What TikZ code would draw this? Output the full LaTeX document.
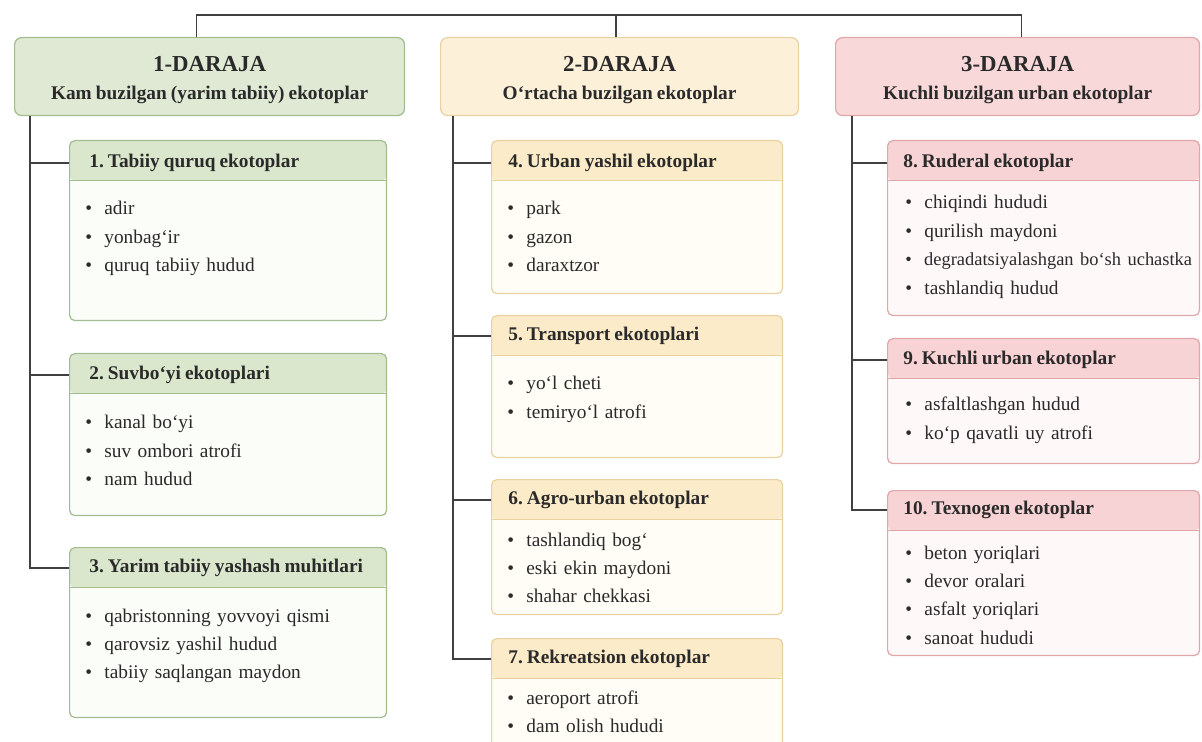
\documentclass[tikz,border=0pt]{standalone}
\usepackage{fontspec}
\setmainfont[WordSpace=0.85]{Liberation Serif}
\frenchspacing
\newcommand{\itembul}{\textbullet\hspace{7pt}}
\definecolor{linegray}{HTML}{404040}
\definecolor{inkgray}{HTML}{2A2A2A}
% level 1 (green)
\definecolor{grline}{HTML}{A3BC90}
\definecolor{grtop}{HTML}{DFE9D4}
\definecolor{grhead}{HTML}{DBE7CD}
\definecolor{grbody}{HTML}{FBFDF8}
% level 2 (orange)
\definecolor{orline}{HTML}{E8D2A2}
\definecolor{ortop}{HTML}{FDF0D9}
\definecolor{orhead}{HTML}{FCEBC8}
\definecolor{orbody}{HTML}{FFFDF6}
% level 3 (red)
\definecolor{rdline}{HTML}{E0A7AA}
\definecolor{rdtop}{HTML}{F9D8D9}
\definecolor{rdhead}{HTML}{F8D3D5}
\definecolor{rdbody}{HTML}{FFF8F8}
\begin{document}
\begin{tikzpicture}[x=0.02cm, y=-0.02cm,
  link/.style={draw=linegray, line width=0.9pt},
  levelbox/.style={rectangle, draw=#1line, fill=#1top, line width=0.7pt, rounded corners=4pt, anchor=north west, minimum height=1.56cm, align=center, inner sep=0pt, text=inkgray, font=\fontsize{11}{13}\selectfont\bfseries},
  subbox/.style={rectangle, draw=#1line, fill=#1body, line width=0.7pt, rounded corners=3pt, anchor=north west, inner sep=0pt,
    path picture={
      \fill[#1head] (path picture bounding box.north west) rectangle ([yshift=-0.8cm]path picture bounding box.north east);
      \draw[#1line, line width=0.7pt] ([yshift=-0.8cm]path picture bounding box.north west) -- ([yshift=-0.8cm]path picture bounding box.north east);}},
  subtitle/.style={anchor=west, inner sep=0pt, text=inkgray, font=\fontsize{11}{13}\selectfont\bfseries},
  items/.style={anchor=base west, inner sep=0pt, text width=6cm, align=left, text=inkgray, font=\fontsize{11}{16.2}\selectfont}
]
  \clip (0,0) rectangle (1202,742);

  % Level headers (top row)
  \node[levelbox=gr, minimum width=7.8cm] (h1) at (14,37) {{\fontsize{13}{15}\selectfont\rule{0pt}{13pt}1-DARAJA}\\[3pt]Kam buzilgan (yarim tabiiy) ekotoplar};
  \node[levelbox=or, minimum width=7.16cm] (h2) at (440,37) {{\fontsize{13}{15}\selectfont\rule{0pt}{13pt}2-DARAJA}\\[3pt]O‘rtacha buzilgan ekotoplar};
  \node[levelbox=rd, minimum width=7.28cm] (h3) at (835,37) {{\fontsize{13}{15}\selectfont\rule{0pt}{13pt}3-DARAJA}\\[3pt]Kuchli buzilgan urban ekotoplar};

  % Level 1 column
  \node[subbox=gr, minimum width=6.34cm, minimum height=3.6cm] (s1) at (69,140) {};
  \node[subtitle] (s1t) at (89,163) {1. Tabiiy quruq ekotoplar};
  \node[items] (s1i) at (85,215) {\itembul adir\\ \itembul yonbag‘ir\\ \itembul quruq tabiiy hudud};

  \node[subbox=gr, minimum width=6.34cm, minimum height=3.24cm] (s2) at (69,353) {};
  \node[subtitle] (s2t) at (89,375) {2. Suvbo‘yi ekotoplari};
  \node[items] (s2i) at (85,429) {\itembul kanal bo‘yi\\ \itembul suv ombori atrofi\\ \itembul nam hudud};

  \node[subbox=gr, minimum width=6.34cm, minimum height=3.4cm] (s3) at (69,547) {};
  \node[subtitle] (s3t) at (89,568) {3. Yarim tabiiy yashash muhitlari};
  \node[items] (s3i) at (85,622) {\itembul qabristonning yovvoyi qismi\\ \itembul qarovsiz yashil hudud\\ \itembul tabiiy saqlangan maydon};

  % Level 2 column
  \node[subbox=or, minimum width=5.82cm, minimum height=3.06cm] (s4) at (491,140) {};
  \node[subtitle] (s4t) at (508,163) {4. Urban yashil ekotoplar};
  \node[items] (s4i) at (507,215) {\itembul park\\ \itembul gazon\\ \itembul daraxtzor};

  \node[subbox=or, minimum width=5.82cm, minimum height=2.84cm] (s5) at (491,315) {};
  \node[subtitle] (s5t) at (508,336) {5. Transport ekotoplari};
  \node[items] (s5i) at (507,390) {\itembul yo‘l cheti\\ \itembul temiryo‘l atrofi};

  \node[subbox=or, minimum width=5.82cm, minimum height=2.7cm] (s6) at (491,479) {};
  \node[subtitle] (s6t) at (508,500) {6. Agro-urban ekotoplar};
  \node[items] (s6i) at (507,546) {\itembul tashlandiq bog‘\\ \itembul eski ekin maydoni\\ \itembul shahar chekkasi};

  \node[subbox=or, minimum width=5.82cm, minimum height=2.6cm] (s7) at (491,638) {};
  \node[subtitle] (s7t) at (508,659) {7. Rekreatsion ekotoplar};
  \node[items] (s7i) at (507,704) {\itembul aeroport atrofi\\ \itembul dam olish hududi};

  % Level 3 column
  \node[subbox=rd, minimum width=6.24cm, minimum height=3.5cm] (s8) at (887,140) {};
  \node[subtitle] (s8t) at (903,163) {8. Ruderal ekotoplar};
  \node[items] (s8i) at (905,209) {\itembul chiqindi hududi\\ \itembul qurilish maydoni\\ {\fontsize{10.5}{16.2}\selectfont\itembul degradatsiyalashgan bo‘sh uchastka}\\ \itembul tashlandiq hudud};

  \node[subbox=rd, minimum width=6.24cm, minimum height=2.5cm] (s9) at (887,338) {};
  \node[subtitle] (s9t) at (903,360) {9. Kuchli urban ekotoplar};
  \node[items] (s9i) at (905,411) {\itembul asfaltlashgan hudud\\ \itembul ko‘p qavatli uy atrofi};

  \node[subbox=rd, minimum width=6.24cm, minimum height=3.3cm] (s10) at (887,490) {};
  \node[subtitle] (s10t) at (903,510) {10. Texnogen ekotoplar};
  \node[items] (s10i) at (905,559) {\itembul beton yoriqlari\\ \itembul devor oralari\\ \itembul asfalt yoriqlari\\ \itembul sanoat hududi};

  % Connectors
  \coordinate (bar) at (616,15);
  \draw[link] ([xshift=-0.26cm]h1.north) |- (bar) -| ([xshift=0.08cm]h3.north);
  \draw[link] (bar) -- (bar |- h2.north);

  \coordinate (sp1) at ([xshift=0.32cm]h1.south west);
  \draw[link] (sp1) |- (s1t -| s1.west);
  \draw[link] (sp1) |- (s2t -| s2.west);
  \draw[link] (sp1) |- (s3t -| s3.west);

  \coordinate (sp2) at ([xshift=0.26cm]h2.south west);
  \draw[link] (sp2) |- (s4t -| s4.west);
  \draw[link] (sp2) |- (s5t -| s5.west);
  \draw[link] (sp2) |- (s6t -| s6.west);
  \draw[link] (sp2) |- (s7t -| s7.west);

  \coordinate (sp3) at ([xshift=0.34cm]h3.south west);
  \draw[link] (sp3) |- (s8t -| s8.west);
  \draw[link] (sp3) |- (s9t -| s9.west);
  \draw[link] (sp3) |- (s10t -| s10.west);
\end{tikzpicture}
\end{document}
